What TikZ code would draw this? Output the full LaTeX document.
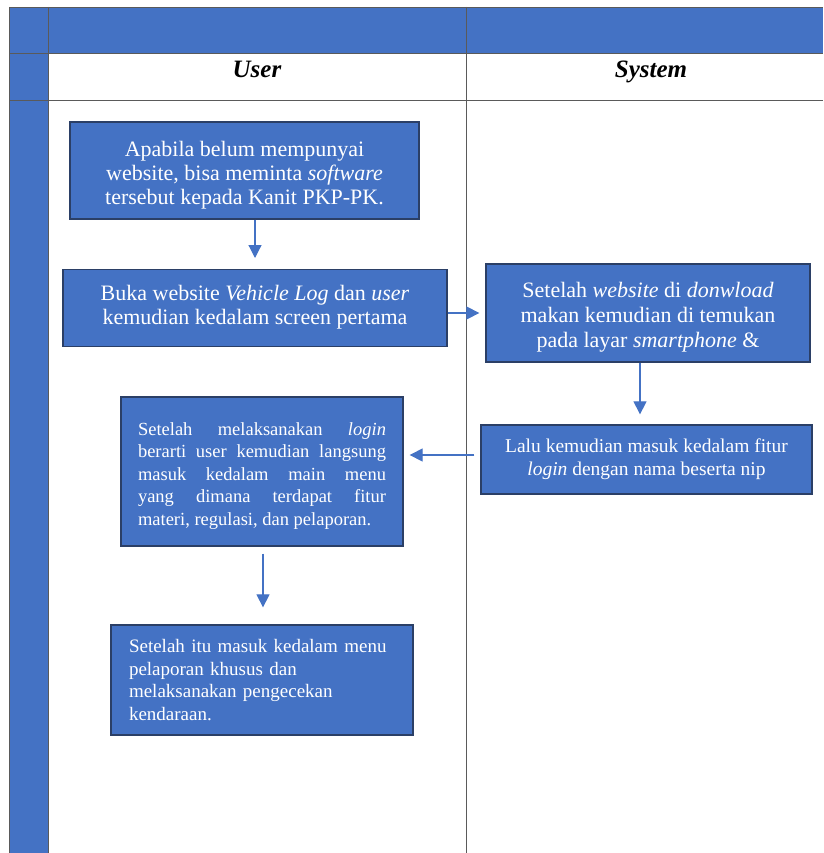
\documentclass[tikz,border=0pt]{standalone}
\usepackage{fontspec}
\setmainfont{Liberation Serif}
\usetikzlibrary{arrows.meta}
\definecolor{wblue}{HTML}{4472C4}
\definecolor{wedge}{HTML}{2B3F66}
\definecolor{gridc}{HTML}{5A5A5A}
\tikzset{
  flowbox/.style={draw=wedge, line width=1.3pt, fill=wblue, text=white, inner sep=0pt, align=center},
  conn/.style={draw=wblue, line width=1.2pt, -{Triangle[width=13pt,length=13pt]}},
  hdr/.style={font=\fontsize{25}{28}\selectfont\bfseries\itshape, anchor=base, inner sep=0pt}
}
\begin{document}
\begin{tikzpicture}[x=1pt,y=-1pt]
\useasboundingbox (0,0) rectangle (823,853);
% table
\fill[wblue] (9,7) rectangle (48,853);
\fill[wblue] (48,7) rectangle (823,53);
\draw[gridc, line width=0.8pt] (9,7) -- (823,7);
\draw[gridc, line width=0.8pt] (9,7) -- (9,853);
\draw[gridc, line width=0.8pt] (48,7) -- (48,853);
\draw[gridc, line width=0.8pt] (466,7) -- (466,853);
\draw[gridc, line width=0.6pt] (9,53) -- (823,53);
\draw[gridc, line width=0.6pt] (9,100) -- (823,100);
\node[hdr] (huser) at (257,78) {User};
\node[hdr] (hsys) at (651,78) {System};
% boxes
\node[flowbox, minimum width=349, minimum height=97, font=\fontsize{22}{24}\selectfont] (A) at (244.5,170.5)
  {\rule{0pt}{25pt}Apabila belum mempunyai\\website, bisa meminta \textit{software}\\tersebut kepada Kanit PKP-PK.};
\node[flowbox, minimum width=384, minimum height=77, font=\fontsize{22}{24}\selectfont, anchor=north] (B) at (255,269)
  {\rule{0pt}{23pt}Buka website \textit{Vehicle Log} dan \textit{user}\\kemudian kedalam screen pertama\\[-10pt]};
\node[flowbox, minimum width=324, minimum height=98, font=\fontsize{22}{25}\selectfont] (C) at (648,313)
  {\rule{0pt}{23pt}Setelah \textit{website} di \textit{donwload}\\makan kemudian di temukan\\pada layar \textit{smartphone} \&};
\node[flowbox, minimum width=331, minimum height=69, font=\fontsize{19.5}{23}\selectfont] (D) at (646.5,459.5)
  {Lalu kemudian masuk kedalam fitur\\\textit{login} dengan nama beserta nip};
\node[flowbox, minimum width=282, minimum height=149, text width=248, inner xsep=17pt, align=justify, font=\fontsize{18.5}{22.5}\selectfont] (E) at (262,471.5)
  {\rule{0pt}{21pt}Setelah melaksanakan \textit{login}\linebreak berarti user kemudian langsung\linebreak masuk kedalam main menu\linebreak yang dimana terdapat fitur\linebreak materi, regulasi, dan pelaporan.};
\node[flowbox, minimum width=302, minimum height=110, text width=266, inner xsep=18pt, align=left, font=\fontsize{19}{22.5}\selectfont] (F) at (262,680)
  {Setelah itu masuk kedalam menu\\pelaporan khusus dan\\melaksanakan pengecekan\\kendaraan.};
% connectors
\draw[conn, shorten >=11pt] (A.south -| B.north) -- (B.north);
\draw[conn, shorten >=6pt] (B.east |- C.west) -- (C.west);
\draw[conn, shorten >=10pt] ([xshift=-8pt]C.south) -- ([xshift=-8pt]C.south |- D.north);
\draw[conn, shorten <=6pt, shorten >=6pt] ([yshift=4.5pt]D.west) -- ([yshift=4.5pt]D.west -| E.east);
\draw[conn, shorten <=7pt, shorten >=17pt] ([xshift=1pt]E.south) -- ([xshift=1pt]F.north);
\end{tikzpicture}
\end{document}
